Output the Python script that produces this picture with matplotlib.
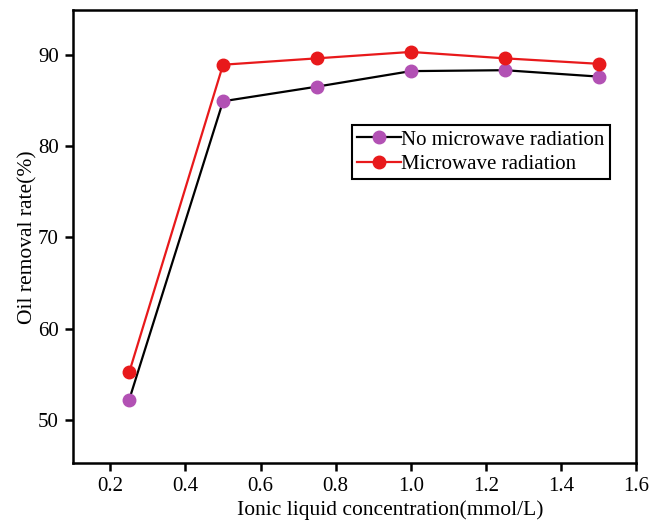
import matplotlib
matplotlib.use('Agg')
import matplotlib.pyplot as plt

plt.rcParams['font.family'] = ['Liberation Serif', 'DejaVu Serif']

conc = [0.25, 0.5, 0.75, 1.0, 1.25, 1.5]
no_mw = [52.2, 84.9, 86.5, 88.2, 88.3, 87.6]
mw = [55.2, 88.9, 89.6, 90.3, 89.6, 89.0]

fig = plt.figure(figsize=(6.62, 5.23), dpi=100)
ax = fig.add_axes([0.110, 0.115, 0.851, 0.866])

ax.plot(conc, no_mw, '-o', color='black', lw=1.6, ms=9,
        mfc='#b251b4', mec='#b251b4', label='No microwave radiation')
ax.plot(conc, mw, '-o', color='#e8191b', lw=1.6, ms=9,
        mfc='#e8191b', mec='#e8191b', label='Microwave radiation')

ax.set_xlim(0.1, 1.6)
ax.set_ylim(45.3, 94.9)
ax.set_xticks([0.2, 0.4, 0.6, 0.8, 1.0, 1.2, 1.4, 1.6])
ax.set_yticks([50, 60, 70, 80, 90])
ax.tick_params(direction='out', length=6, width=1.8, labelsize=15, pad=4)
for s in ax.spines.values():
    s.set_linewidth(1.8)

ax.set_xlabel('Ionic liquid concentration(mmol/L)', fontsize=15.5)
ax.set_ylabel('Oil removal rate(%)', fontsize=15.5)
ax.xaxis.set_label_coords(0.563, -0.082)
ax.yaxis.set_label_coords(-0.063, 0.498)

leg = ax.legend(loc='upper left', bbox_to_anchor=(0.496, 0.746), fontsize=15,
                fancybox=False, edgecolor='black', framealpha=1,
                handlelength=2.1, handletextpad=0.0, borderpad=0.25,
                labelspacing=0.22, borderaxespad=0)
leg.get_frame().set_linewidth(1.5)

fig.savefig('out.png', dpi=100)
